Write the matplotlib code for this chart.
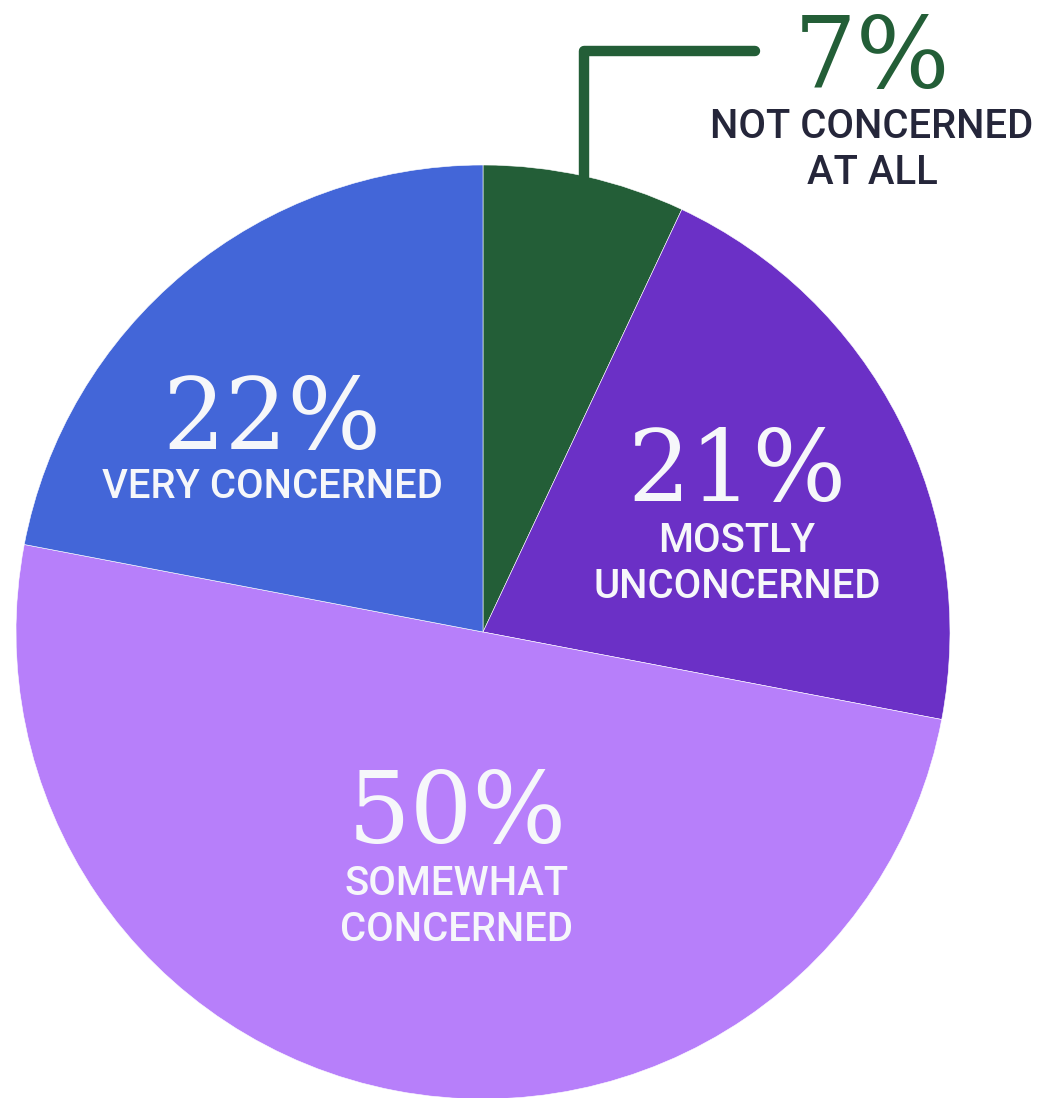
import matplotlib
matplotlib.use('Agg')
import matplotlib.pyplot as plt

# ========== DATA ==========
shares = [7, 21, 50, 22]
pct_labels = ['7%', '21%', '50%', '22%']
cat_labels = ['NOT CONCERNED\nAT ALL', 'MOSTLY\nUNCONCERNED', 'SOMEWHAT\nCONCERNED', 'VERY CONCERNED']
colors = ['#235E37', '#6B30C6', '#B77FFA', '#4366D8']

W, H = 1039, 1098
CX, CY, R = 483, H - 632, 467

fig = plt.figure(figsize=(W / 100, H / 100), dpi=100)
ax = fig.add_axes([0, 0, 1, 1])

ax.pie(shares, colors=colors, startangle=90, counterclock=False,
       center=(CX, CY), radius=R, frame=True,
       wedgeprops=dict(edgecolor='white', linewidth=0.4))
ax.set_xlim(0, W)
ax.set_ylim(0, H)
ax.set_aspect('equal')
ax.axis('off')

SERIF = 'DejaVu Serif'
SANS = 'Roboto'
WHITE = '#F6F7FA'
DARK = '#25263A'

# callout line for the small slice
ax.plot([584, 584, 755], [H - 178, H - 51, H - 51], color=colors[0], lw=7.5,
        solid_capstyle='round', solid_joinstyle='round', zorder=3)

# (x, number baseline, label first baseline, number colour, label colour)
placements = [
    (872, H - 88, H - 138, colors[0], DARK),
    (737, H - 501, H - 552, WHITE, WHITE),
    (457, H - 843, H - 895, WHITE, WHITE),
    (272, H - 449, H - 498, WHITE, WHITE),
]

for (x, yn, yl, cn, cl), pct, lab in zip(placements, pct_labels, cat_labels):
    ax.text(x, yn, pct, family=SERIF, fontsize=71, color=cn,
            ha='center', va='baseline')
    for i, line in enumerate(lab.split('\n')):
        ax.text(x, yl - i * 46, line, family=SANS, fontsize=28.8, fontweight='medium',
                color=cl, ha='center', va='baseline')

fig.savefig('out.png', dpi=100)
